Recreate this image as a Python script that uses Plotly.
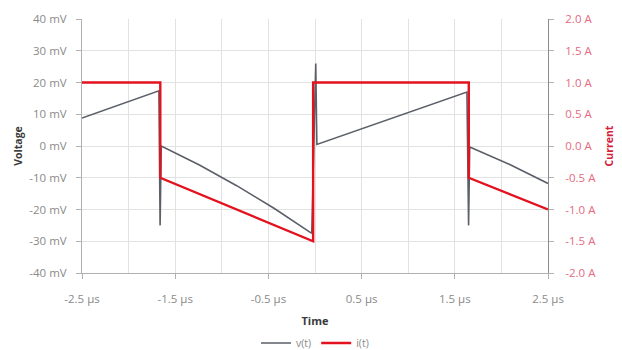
import plotly.graph_objects as go

# Switching waveform: output voltage ripple v(t) and inductor current i(t)
t_v = [-2.5, -1.675, -1.662, -1.65, -1.24, -0.84, -0.44, -0.035, 0.008, 0.02, 1.63, 1.648, 1.66, 2.09, 2.5]
v_mv = [8.8, 17.4, -25.0, 0.0, -6.0, -12.5, -19.6, -27.5, 26.0, 0.5, 17.0, -25.0, -0.3, -5.8, -11.8]

t_i = [-2.5, -1.66, -1.66, -0.02, -0.02, 1.65, 1.65, 2.5]
i_a = [1.0, 1.0, -0.5, -1.5, 1.0, 1.0, -0.5, -1.0]

x_ticks = [-2.5, -1.5, -0.5, 0.5, 1.5, 2.5]
x_labels = ["-2.5 µs", "-1.5 µs", "-0.5 µs", "0.5 µs", "1.5 µs", "2.5 µs"]
v_ticks = [-40, -30, -20, -10, 0, 10, 20, 30, 40]
v_labels = ["-40 mV", "-30 mV", "-20 mV", "-10 mV", "0 mV", "10 mV", "20 mV", "30 mV", "40 mV"]
i_ticks = [-2.0, -1.5, -1.0, -0.5, 0.0, 0.5, 1.0, 1.5, 2.0]
i_labels = ["-2.0 A", "-1.5 A", "-1.0 A", "-0.5 A", "0.0 A", "0.5 A", "1.0 A", "1.5 A", "2.0 A"]

GRAY_TXT = "#8a8a8a"
RED = "#e3121e"
FONT = "Open Sans"

fig = go.Figure()
fig.add_trace(go.Scatter(x=t_v, y=v_mv, name="v(t)", mode="lines",
                         line=dict(color="#5b6068", width=1.6), yaxis="y"))
fig.add_trace(go.Scatter(x=t_i, y=i_a, name="i(t)", mode="lines",
                         line=dict(color=RED, width=2.4), yaxis="y2"))

fig.update_layout(
    width=622, height=350,
    margin=dict(l=82, r=74, t=19, b=77),
    paper_bgcolor="white", plot_bgcolor="white",
    font=dict(family=FONT, size=11.5, color=GRAY_TXT),
    showlegend=True,
    legend=dict(orientation="h", x=0.5, xanchor="center",
                yref="container", y=0.02, yanchor="middle",
                font=dict(size=10.5, color=GRAY_TXT), itemwidth=30, tracegroupgap=0),
    xaxis=dict(
        range=[-2.5, 2.5], tickvals=x_ticks, ticktext=x_labels,
        showgrid=True, gridcolor="#e2e2e2", gridwidth=1,
        minor=dict(dtick=0.5, tick0=-2.5, showgrid=True, gridcolor="#e2e2e2", gridwidth=1),
        showline=True, linecolor="#b0b0b0", linewidth=1,
        ticks="outside", ticklen=5, tickcolor="#b0b0b0",
        ticklabelstandoff=10,
        zeroline=False, automargin=False,
        title=dict(text="<b>Time</b>", font=dict(size=11, color="#3a3a3a"), standoff=12),
    ),
    yaxis=dict(
        range=[-40, 40], tickvals=v_ticks, ticktext=v_labels,
        showgrid=True, gridcolor="#e2e2e2", gridwidth=1,
        showline=True, linecolor="#b0b0b0", linewidth=1,
        ticks="outside", ticklen=5, tickcolor="#b0b0b0",
        ticklabelstandoff=7,
        zeroline=False, automargin=False,
        title=dict(text="<b>Voltage</b>", font=dict(size=10.5, color="#3a3a3a"), standoff=4),
    ),
    yaxis2=dict(
        range=[-2.0, 2.0], tickvals=i_ticks, ticktext=i_labels,
        overlaying="y", side="right", showgrid=False,
        showline=True, linecolor="#8c8c8c", linewidth=1,
        ticks="outside", ticklen=5, tickcolor="#b0b0b0",
        ticklabelstandoff=9,
        tickfont=dict(color="#e46a80"),
        zeroline=False, automargin=False,
        title=dict(text="<b>Current</b>", font=dict(size=10.5, color="#d4203a"), standoff=10),
    ),
)

fig.write_html("out.html")
